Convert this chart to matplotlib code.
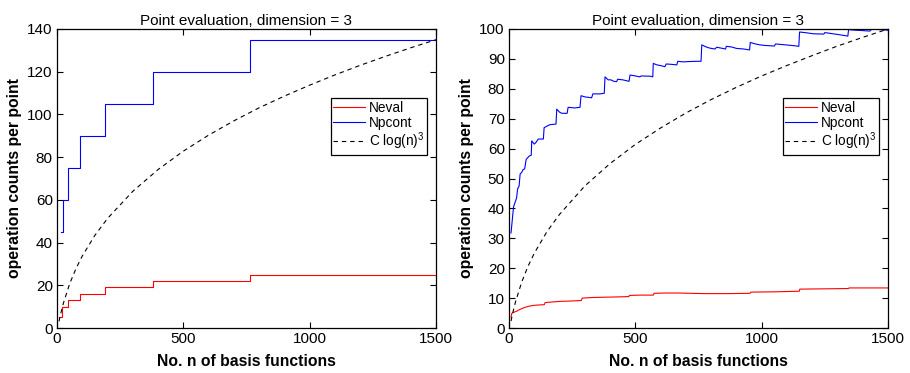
import matplotlib
matplotlib.use("Agg")
import matplotlib.pyplot as plt

plt.rcParams['font.family'] = ['Liberation Sans', 'DejaVu Sans']
plt.rcParams['mathtext.fontset'] = 'custom'
plt.rcParams['mathtext.rm'] = 'Liberation Sans'

################# DATA #################

# left panel: step data
left_n_pc = [15, 22, 45, 90, 190, 380, 765, 1500]
left_pc = [45, 60, 75, 90, 105, 120, 135, 135]
left_n_ev = [9, 20, 45, 90, 190, 380, 765, 1500]
left_ev = [5, 10, 13, 16, 19, 22, 25, 25]
left_n_ref = [8, 15, 25, 50, 75, 100, 150, 200, 300, 400, 500, 600, 700,
              800, 900, 1000, 1100, 1200, 1300, 1400, 1500]
left_ref = [3.1, 6.9, 11.5, 20.7, 27.8, 33.7, 43.4, 51.3, 64.0, 74.2, 82.8,
            90.3, 97.0, 103.1, 108.6, 113.7, 118.5, 123.0, 127.2, 131.2, 135.0]

# right panel
right_n_pc = [8, 18, 22, 30, 34, 40, 44, 50, 56, 62, 68, 80, 88, 90, 100, 106,
              116, 136, 139, 150, 162, 186, 189, 200, 209, 230, 234, 260, 281,
              285, 300, 327, 332, 360, 377, 380, 392, 403, 415, 426, 430, 450,
              475, 479, 500, 518, 523, 560, 569, 571, 585, 598, 617, 622, 640,
              664, 668, 690, 709, 740, 760, 763, 780, 795, 815, 822, 840, 857,
              860, 880, 901, 930, 952, 955, 975, 993, 1013, 1050, 1055, 1080,
              1106, 1130, 1147, 1150, 1180, 1204, 1246, 1250, 1290, 1330, 1341,
              1344, 1370, 1395, 1428, 1435, 1470, 1500]
right_pc = [31.8, 40.5, 41.5, 43.5, 46.5, 47.5, 51.5, 52, 53, 53.2, 56.4, 57.5,
            57.8, 62.6, 61.5, 62, 63.2, 63.2, 67, 67.5, 68, 68.2, 73.2, 72.2,
            71.8, 71.8, 73.8, 73.6, 73.8, 77.7, 77.3, 77, 78.3, 78.3, 78.5, 84,
            83, 83, 82.5, 82.4, 83.2, 83, 82.5, 84.6, 84.3, 84, 84.3, 84.2, 84,
            88.5, 88, 87.8, 87.4, 88.3, 88.2, 88, 89.2, 89, 89.1, 89.2, 89.2,
            94.7, 94, 93.6, 93.3, 93.9, 93.6, 93.3, 94.2, 94, 93.5, 93.3, 93,
            95.5, 95, 94.7, 94.5, 94.3, 95, 94.8, 94.6, 94.4, 94.2, 99, 98.7,
            98.4, 98.3, 98.8, 98.3, 97.8, 97.6, 99.8, 99.6, 99.5, 99.3, 99.9,
            99.8, 99.6]
right_n_ev = [8, 11, 20, 30, 45, 63, 80, 100, 120, 140, 143, 170, 201, 240,
              286, 290, 330, 380, 430, 474, 477, 520, 571, 574, 620, 670, 720,
              773, 860, 954, 957, 1050, 1149, 1151, 1250, 1343, 1346, 1420, 1500]
right_ev = [3.6, 4.9, 5.3, 5.6, 6.3, 6.9, 7.3, 7.6, 7.7, 7.8, 8.5, 8.7, 8.9,
            9.0, 9.2, 10, 10.2, 10.3, 10.4, 10.5, 10.9, 11.0, 11.0, 11.6, 11.7,
            11.7, 11.6, 11.5, 11.5, 11.6, 12.0, 12.1, 12.3, 13.0, 13.1, 13.2,
            13.4, 13.4, 13.4]
right_n_ref = left_n_ref
right_ref = [2.3, 5.1, 8.5, 15.3, 20.6, 25.0, 32.2, 38.0, 47.5, 55.0, 61.4,
             66.9, 71.9, 76.4, 80.5, 84.3, 87.8, 91.1, 94.3, 97.2, 100.0]

################# PLOT #########################################

fig = plt.figure(figsize=(9.1, 3.73), dpi=100)
ax1 = fig.add_axes([57 / 910, 45 / 373, 379 / 910, 299 / 373])
ax2 = fig.add_axes([509 / 910, 45 / 373, 379 / 910, 299 / 373])


def style(ax, ymax, ystep):
    ax.set_xlim(0, 1500)
    ax.set_ylim(0, ymax)
    ax.set_xticks([0, 500, 1000, 1500])
    ax.set_yticks(range(0, ymax + 1, ystep))
    ax.tick_params(direction='in', top=True, right=True, labelsize=11,
                   length=4, width=0.8, pad=3)
    for s in ax.spines.values():
        s.set_linewidth(0.9)
    ax.set_title("Point evaluation, dimension = 3", fontsize=11, pad=3)
    ax.set_xlabel("No. n of basis functions", fontsize=11.3, fontweight='bold',
                  labelpad=6)
    ax.set_ylabel("operation counts per point", fontsize=11.3, fontweight='bold',
                  labelpad=4)
    leg = ax.legend(loc='upper right', bbox_to_anchor=(0.976, 0.768),
                    fontsize=9.8, fancybox=False, framealpha=1,
                    edgecolor='black', borderpad=0.2, labelspacing=0.05,
                    handlelength=2.3, handletextpad=0.3, borderaxespad=0)
    leg.get_frame().set_linewidth(0.9)


ax1.plot(left_n_ev, left_ev, color='red', lw=0.8, drawstyle='steps-post', label='Neval')
ax1.plot(left_n_pc, left_pc, color='blue', lw=0.8, drawstyle='steps-post', label='Npcont')
ax1.plot(left_n_ref, left_ref, 'k--', lw=0.8, dashes=(4, 3.5), label='C log(n)$^3$')
style(ax1, 140, 20)

ax2.plot(right_n_ev, right_ev, color='red', lw=0.8, label='Neval')
ax2.plot(right_n_pc, right_pc, color='blue', lw=0.8, label='Npcont')
ax2.plot(right_n_ref, right_ref, 'k--', lw=0.8, dashes=(4, 3.5), label='C log(n)$^3$')
style(ax2, 100, 10)

plt.savefig("out.png", dpi=100)
